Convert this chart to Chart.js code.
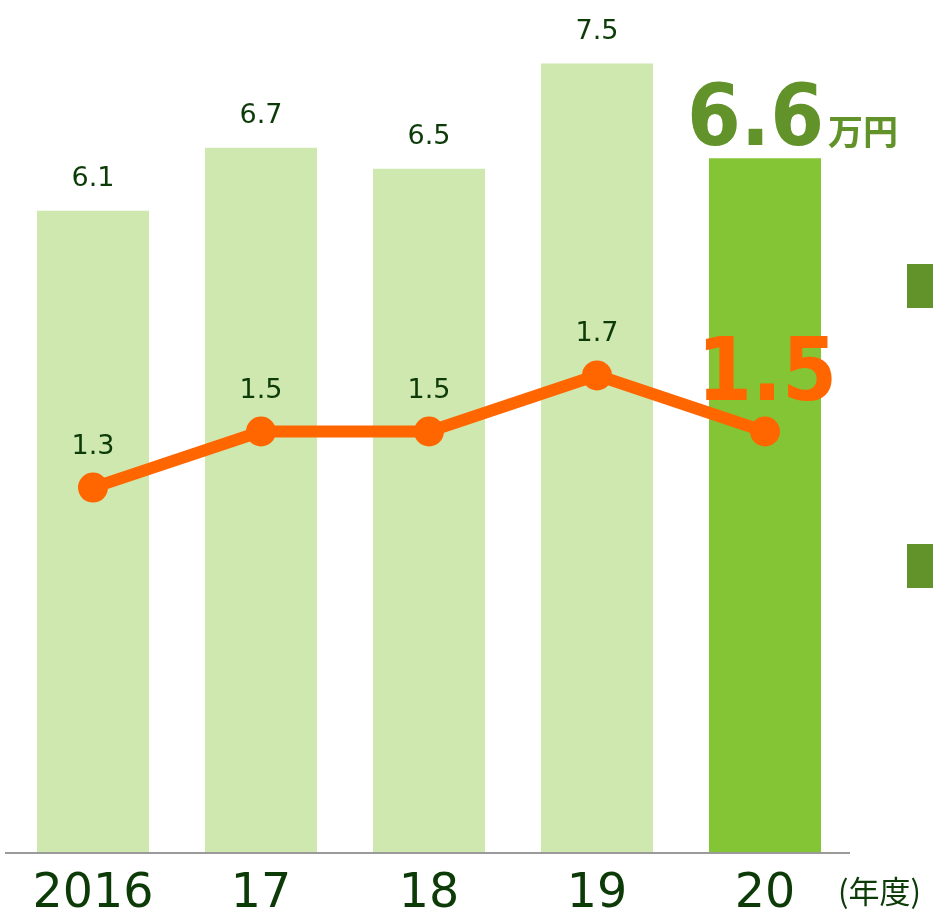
<!DOCTYPE html>
<html>
<head>
<meta charset="utf-8">
<script src="https://cdn.jsdelivr.net/npm/chart.js@4"></script>
<style>
  body { margin: 0; background: #fff; }
  #wrap { position: relative; width: 933px; height: 913px; }
  .mark { position: absolute; left: 907px; width: 26px; height: 44px; background: #62922a; }
</style>
</head>
<body>
<div id="wrap">
  <canvas id="chart" width="933" height="913"></canvas>
  <div class="mark" style="top:264px"></div>
  <div class="mark" style="top:544px"></div>
</div>
<script>
const years = ["2016", "17", "18", "19", "20"];
const amounts = [6.1, 6.7, 6.5, 7.5, 6.6];
const ratios = [1.3, 1.5, 1.5, 1.7, 1.5];
const barColors = ["#cfe8b0", "#cfe8b0", "#cfe8b0", "#cfe8b0", "#84c535"];
const unitLabel = "万円";
const yearUnit = "(年度)";

const darkGreen = "#0d3b08";
const orange = "#ff6600";
const green = "#62922a";

const labelsPlugin = {
  id: "labels",
  afterDatasetsDraw(chart) {
    const ctx = chart.ctx;
    const bars = chart.getDatasetMeta(0).data;
    const pts = chart.getDatasetMeta(1).data;
    const last = years.length - 1;
    ctx.save();
    ctx.textBaseline = "alphabetic";

    // bar values
    bars.forEach((bar, i) => {
      if (i === last) {
        const left = bar.x - 78;
        ctx.fillStyle = green;
        ctx.textAlign = "left";
        ctx.font = "bold 86px 'DejaVu Sans Condensed', 'DejaVu Sans'";
        ctx.fillText(amounts[i].toFixed(1), left, bar.y - 13);
        const w = ctx.measureText(amounts[i].toFixed(1)).width;
        ctx.font = "bold 35px 'Noto Sans CJK JP'";
        ctx.fillText(unitLabel, left + w + 4, bar.y - 13);
      } else {
        ctx.fillStyle = darkGreen;
        ctx.textAlign = "center";
        ctx.font = "27px 'DejaVu Sans'";
        ctx.fillText(amounts[i].toFixed(1), bar.x, bar.y - 25);
      }
    });

    // line values
    pts.forEach((p, i) => {
      ctx.textAlign = "center";
      if (i === last) {
        ctx.fillStyle = orange;
        ctx.font = "bold 88px 'DejaVu Sans Condensed', 'DejaVu Sans'";
        ctx.fillText(ratios[i].toFixed(1), p.x + 2, p.y - 32);
      } else {
        ctx.fillStyle = darkGreen;
        ctx.font = "27px 'DejaVu Sans'";
        ctx.fillText(ratios[i].toFixed(1), p.x, p.y - 34);
      }
    });

    // category labels (slightly stretched condensed face)
    const xs = chart.scales.x;
    const base = chart.chartArea.bottom;
    ctx.fillStyle = darkGreen;
    ctx.font = "48px 'Liberation Sans Narrow', 'DejaVu Sans Condensed'";
    ctx.textAlign = "center";
    years.forEach((y, i) => {
      const cx = xs.getPixelForValue(i);
      ctx.save();
      ctx.translate(cx, base + 55);
      ctx.scale(1.1, 1);
      ctx.fillText(y, 0, 0);
      ctx.restore();
    });
    ctx.font = "31px 'Noto Sans CJK JP'";
    ctx.textAlign = "left";
    ctx.fillText(yearUnit, 838, base + 51);

    // base line
    ctx.strokeStyle = "#9a9a9a";
    ctx.lineWidth = 2;
    ctx.beginPath();
    ctx.moveTo(5, base + 1);
    ctx.lineTo(850, base + 1);
    ctx.stroke();
    ctx.restore();
  }
};

new Chart(document.getElementById("chart"), {
  data: {
    labels: years,
    datasets: [
      {
        type: "bar",
        data: amounts,
        backgroundColor: barColors,
        yAxisID: "y",
        barPercentage: 0.667,
        categoryPercentage: 1,
        order: 1
      },
      {
        type: "line",
        data: ratios,
        borderColor: orange,
        borderWidth: 12,
        pointRadius: 15,
        pointBackgroundColor: orange,
        pointBorderWidth: 0,
        yAxisID: "y1",
        order: 0
      }
    ]
  },
  options: {
    responsive: false,
    animation: false,
    layout: { autoPadding: false, padding: { left: 9, right: 84, top: 11, bottom: 61 } },
    plugins: { legend: { display: false }, tooltip: { enabled: false } },
    scales: {
      x: { display: false },
      y: { display: false, min: 0, max: 8 },
      y1: { display: false, min: 0, max: 3, position: "right" }
    }
  },
  plugins: [labelsPlugin]
});
</script>
</body>
</html>
